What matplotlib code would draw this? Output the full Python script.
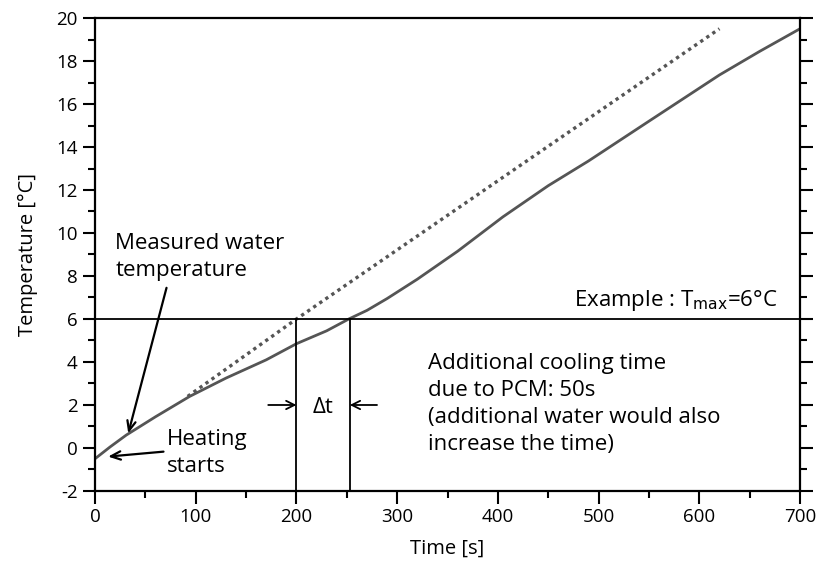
import matplotlib
matplotlib.use("Agg")
import matplotlib.pyplot as plt
from matplotlib.ticker import MultipleLocator

plt.rcParams['font.family'] = ['Open Sans', 'DejaVu Sans']
plt.rcParams['axes.unicode_minus'] = False

# measured water temperature
time_s = [0, 15, 31, 60, 94, 130, 170, 200, 230, 252, 270, 290, 320, 360,
          405, 450, 490, 550, 620, 660, 700]
temp_c = [-0.5, 0.05, 0.6, 1.45, 2.4, 3.25, 4.1, 4.85, 5.45, 6.0, 6.4, 6.95,
          7.85, 9.15, 10.75, 12.2, 13.35, 15.2, 17.35, 18.45, 19.5]

# curve without PCM (dotted)
ref_time = [92, 200, 620]
ref_temp = [2.4, 6.0, 19.5]

t_max = 6
t_ref, t_pcm = 200, 253

fig = plt.figure(figsize=(8.17, 5.61), dpi=100)
ax = fig.add_axes([0.1163, 0.1248, 0.8629, 0.8431])

ax.plot(time_s, temp_c, color='#555555', lw=2)
ax.plot(ref_time, ref_temp, color='#555555', lw=2.4, linestyle=(0, (1, 1.2)))

ax.plot([0, 700], [t_max, t_max], color='black', lw=1.3)
ax.plot([t_ref, t_ref], [-2, t_max], color='black', lw=1.3)
ax.plot([t_pcm, t_pcm], [-2, t_max], color='black', lw=1.3)

arrow = dict(arrowstyle='->,head_length=0.6,head_width=0.3', color='black', lw=1.3, shrinkA=0, shrinkB=0)
ax.annotate('', xy=(t_ref, 2), xytext=(172, 2), arrowprops=arrow)
ax.annotate('', xy=(t_pcm, 2), xytext=(280, 2), arrowprops=arrow)
ax.text(226, 1.9, '\u0394t', fontsize=16, ha='center', va='center')

big_arrow = dict(arrowstyle='->,head_length=0.7,head_width=0.3', color='black', lw=1.6, shrinkA=0, shrinkB=0)
ax.annotate('', xy=(33, 0.68), xytext=(71, 7.45), arrowprops=big_arrow)
ax.text(20, 8.88, 'Measured water\ntemperature', fontsize=16, ha='left', va='center', linespacing=1.37)

ax.annotate('', xy=(13, -0.4), xytext=(68, -0.17), arrowprops=big_arrow)
ax.text(71, -0.23, 'Heating\nstarts', fontsize=16, ha='left', va='center', linespacing=1.37)

ax.text(678, 6.88, 'Example : T$_{\\mathrm{max}}$=6°C', fontsize=16, ha='right', va='center')
ax.text(331, 2.05, 'Additional cooling time\ndue to PCM: 50s\n(additional water would also\nincrease the time)',
        fontsize=16, ha='left', va='center', linespacing=1.37)

ax.set_xlim(0, 700)
ax.set_ylim(-2, 20)
ax.xaxis.set_major_locator(MultipleLocator(100))
ax.xaxis.set_minor_locator(MultipleLocator(50))
ax.yaxis.set_major_locator(MultipleLocator(2))
ax.yaxis.set_minor_locator(MultipleLocator(1))
ax.tick_params(which='major', length=9, width=1.5, labelsize=13.5, direction='out')
ax.tick_params(which='minor', length=5, width=1.5, direction='out')
ax.tick_params(axis='y', which='both', right=True)
for s in ax.spines.values():
    s.set_linewidth(1.6)

ax.set_xlabel('Time [s]', fontsize=14.5, labelpad=9)
ax.set_ylabel('Temperature [°C]', fontsize=14.5, labelpad=13)

fig.savefig('out.png', dpi=100)
